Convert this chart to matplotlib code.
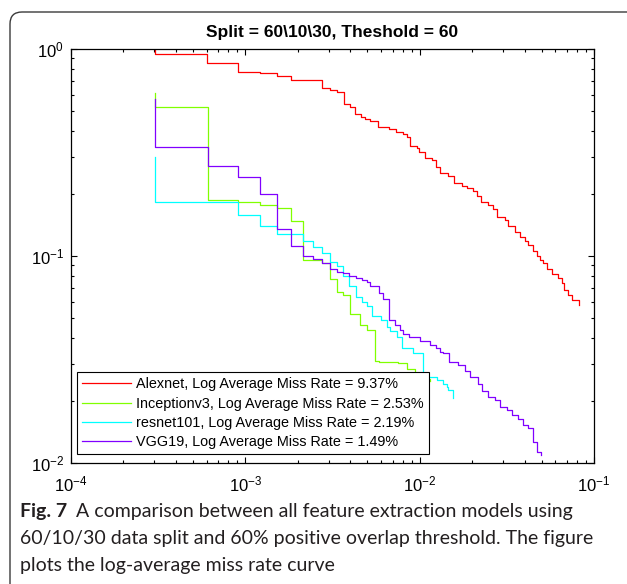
import matplotlib
matplotlib.use("Agg")
import matplotlib.pyplot as plt
from matplotlib.path import Path
from matplotlib.patches import PathPatch
from matplotlib.ticker import LogLocator, NullFormatter

plt.rcParams['font.family'] = ['Liberation Sans', 'DejaVu Sans']
plt.rcParams['mathtext.fontset'] = 'custom'
plt.rcParams['mathtext.rm'] = 'Liberation Sans'

# false positives per image vs miss rate
alex_x = [3.05e-4, 3.05e-4, 6.05e-4, 9.1e-4, 1.21e-3, 1.52e-3, 1.83e-3, 2.74e-3, 3.05e-3, 3.35e-3,
          3.66e-3, 3.97e-3, 4.27e-3, 4.58e-3, 4.88e-3, 5.19e-3, 5.8e-3, 6.71e-3, 7.32e-3, 8.0e-3,
          8.43e-3, 8.81e-3, 9.62e-3, 9.96e-3, 1.074e-2, 1.173e-2, 1.242e-2, 1.309e-2, 1.462e-2, 1.582e-2,
          1.745e-2, 1.879e-2, 2.034e-2, 2.128e-2, 2.244e-2, 2.48e-2, 2.65e-2, 2.77e-2, 3.09e-2, 3.23e-2,
          3.53e-2, 3.77e-2, 4.03e-2, 4.21e-2, 4.49e-2, 4.70e-2, 4.91e-2, 5.13e-2, 5.36e-2, 5.73e-2,
          6.25e-2, 6.54e-2, 6.74e-2, 7.13e-2, 7.46e-2, 8.15e-2]
alex_y = [0.989, 0.946, 0.859, 0.774, 0.763, 0.743, 0.711, 0.646, 0.634, 0.618,
          0.541, 0.526, 0.485, 0.471, 0.458, 0.449, 0.418, 0.409, 0.397, 0.389,
          0.377, 0.340, 0.331, 0.317, 0.299, 0.291, 0.270, 0.253, 0.244, 0.225,
          0.217, 0.212, 0.206, 0.195, 0.183, 0.176, 0.168, 0.155, 0.150, 0.139,
          0.131, 0.124, 0.118, 0.113, 0.106, 0.100, 0.096, 0.093, 0.087, 0.0818,
          0.078, 0.0738, 0.0685, 0.0648, 0.0613, 0.058]

incep_x = [3.05e-4, 3.05e-4, 6.1e-4, 9.1e-4, 1.21e-3, 1.51e-3, 1.83e-3, 2.13e-3, 2.74e-3, 3.04e-3,
           3.35e-3, 3.65e-3, 3.97e-3, 4.56e-3, 4.96e-3, 5.53e-3, 5.86e-3, 7.52e-3, 8.41e-3, 9.4e-3,
           1.05e-2, 1.15e-2]
incep_y = [0.611, 0.523, 0.187, 0.182, 0.177, 0.170, 0.148, 0.0957, 0.0925, 0.0771,
           0.0672, 0.0648, 0.0525, 0.0465, 0.0440, 0.0312, 0.0309, 0.0304, 0.0286, 0.0270,
           0.0255, 0.0250]

res_x = [3.05e-4, 3.05e-4, 9.1e-4, 1.21e-3, 1.51e-3, 2.13e-3, 2.44e-3, 2.74e-3, 3.04e-3, 3.37e-3,
         3.65e-3, 3.95e-3, 4.32e-3, 4.66e-3, 4.96e-3, 5.35e-3, 5.98e-3, 6.48e-3, 6.76e-3, 7.39e-3,
         7.96e-3, 9.13e-3, 1.042e-2, 1.254e-2, 1.368e-2, 1.43e-2, 1.46e-2, 1.56e-2]
res_y = [0.300, 0.183, 0.157, 0.139, 0.128, 0.118, 0.110, 0.103, 0.094, 0.089,
         0.080, 0.0716, 0.0636, 0.0601, 0.0573, 0.0515, 0.0490, 0.0455, 0.0434, 0.0408,
         0.0358, 0.0341, 0.0261, 0.0252, 0.0241, 0.0234, 0.0224, 0.0205]

vgg_x = [3.05e-4, 3.05e-4, 6.1e-4, 9.1e-4, 1.21e-3, 1.51e-3, 1.83e-3, 2.13e-3, 2.44e-3, 2.74e-3,
         3.04e-3, 3.35e-3, 3.65e-3, 3.95e-3, 4.32e-3, 4.66e-3, 4.96e-3, 5.19e-3, 5.87e-3, 6.19e-3,
         6.70e-3, 7.22e-3, 7.72e-3, 8.07e-3, 8.73e-3, 1.005e-2, 1.148e-2, 1.242e-2, 1.309e-2, 1.362e-2,
         1.475e-2, 1.66e-2, 1.82e-2, 1.945e-2, 2.16e-2, 2.27e-2, 2.48e-2, 2.71e-2, 2.89e-2, 3.16e-2,
         3.38e-2, 3.68e-2, 3.94e-2, 4.21e-2, 4.46e-2, 4.73e-2, 4.97e-2]
vgg_y = [0.573, 0.335, 0.271, 0.242, 0.199, 0.135, 0.112, 0.100, 0.0964, 0.093,
         0.087, 0.084, 0.083, 0.080, 0.078, 0.0765, 0.0747, 0.0716, 0.066, 0.062,
         0.0491, 0.0465, 0.044, 0.0422, 0.0405, 0.0388, 0.0372, 0.0358, 0.0345, 0.0341,
         0.0309, 0.0296, 0.0279, 0.0261, 0.0241, 0.0223, 0.0209, 0.0202, 0.0187, 0.0181,
         0.0171, 0.0164, 0.0152, 0.0148, 0.0127, 0.0113, 0.0109]

labels = ["Alexnet, Log Average Miss Rate = 9.37%",
          "Inceptionv3, Log Average Miss Rate = 2.53%",
          "resnet101, Log Average Miss Rate = 2.19%",
          "VGG19, Log Average Miss Rate = 1.49%"]
colors = ["#ff0000", "#80ff00", "#00ffff", "#8000ff"]

fig = plt.figure(figsize=(6.27, 5.84), dpi=100)

# rounded frame of the journal figure box
r = 0.12
frame = Path([(0.10, -0.2), (0.10, 5.72 - r), (0.10, 5.72), (0.10 + r, 5.72), (6.5, 5.72)],
             [Path.MOVETO, Path.LINETO, Path.CURVE3, Path.CURVE3, Path.LINETO])
fig.patches.append(PathPatch(frame, transform=fig.dpi_scale_trans, fill=False,
                             edgecolor="#3a3a3a", linewidth=1.0))

ax = fig.add_axes([71/627, 1 - 463/584, 523/627, 414/584])
series = [(alex_x, alex_y), (incep_x, incep_y), (res_x, res_y), (vgg_x, vgg_y)]
for (xs, ys), c, lab in zip(series, colors, labels):
    ax.plot(xs, ys, drawstyle="steps-post", color=c, linewidth=0.9, label=lab)

ax.set_xscale("log")
ax.set_yscale("log")
ax.set_xlim(1e-4, 1e-1)
ax.set_ylim(1e-2, 1)
ax.xaxis.set_minor_locator(LogLocator(base=10, subs=range(2, 10)))
ax.yaxis.set_minor_locator(LogLocator(base=10, subs=range(2, 10)))
ax.xaxis.set_minor_formatter(NullFormatter())
ax.yaxis.set_minor_formatter(NullFormatter())
ax.tick_params(which="both", direction="in", top=True, right=True, labelsize=12, width=0.8)
ax.tick_params(which="major", length=4.5)
ax.tick_params(axis="x", which="major", pad=8)
ax.tick_params(axis="y", which="major", pad=5)
ax.tick_params(which="minor", length=2.5)
for s in ax.spines.values():
    s.set_linewidth(0.9)

leg = ax.legend(loc="lower left", bbox_to_anchor=(0.0115, 0.0217), borderaxespad=0,
                fontsize=10.4, fancybox=False, framealpha=1, edgecolor="black",
                handlelength=3.4, handletextpad=0.35, labelspacing=0.36, borderpad=0.35)
leg.get_frame().set_linewidth(0.8)

fig.text(332.5/627, 1 - 33/584, "Split = 60\\10\\30, Theshold = 60", ha="center", va="center",
         fontsize=12.5, fontweight="bold")

# caption
cap_font = ['Lato', 'DejaVu Sans']
cap_color = "#231f20"
cap_size = 14
fig.canvas.draw()
rend = fig.canvas.get_renderer()
t = fig.text(20/627, 1 - 512/584, "Fig. 7", ha="left", va="center", fontsize=cap_size,
             fontweight="bold", family=cap_font, color=cap_color)
bb = t.get_window_extent(rend)
fig.text((bb.x1 + 9)/627, 1 - 512/584, "A comparison between all feature extraction models using",
         ha="left", va="center", fontsize=cap_size, family=cap_font, color=cap_color)
fig.text(20/627, 1 - 538.5/584, "60/10/30 data split and 60% positive overlap threshold. The figure",
         ha="left", va="center", fontsize=cap_size, family=cap_font, color=cap_color)
fig.text(20/627, 1 - 565/584, "plots the log-average miss rate curve",
         ha="left", va="center", fontsize=cap_size, family=cap_font, color=cap_color)

fig.savefig("out.png", dpi=100)
